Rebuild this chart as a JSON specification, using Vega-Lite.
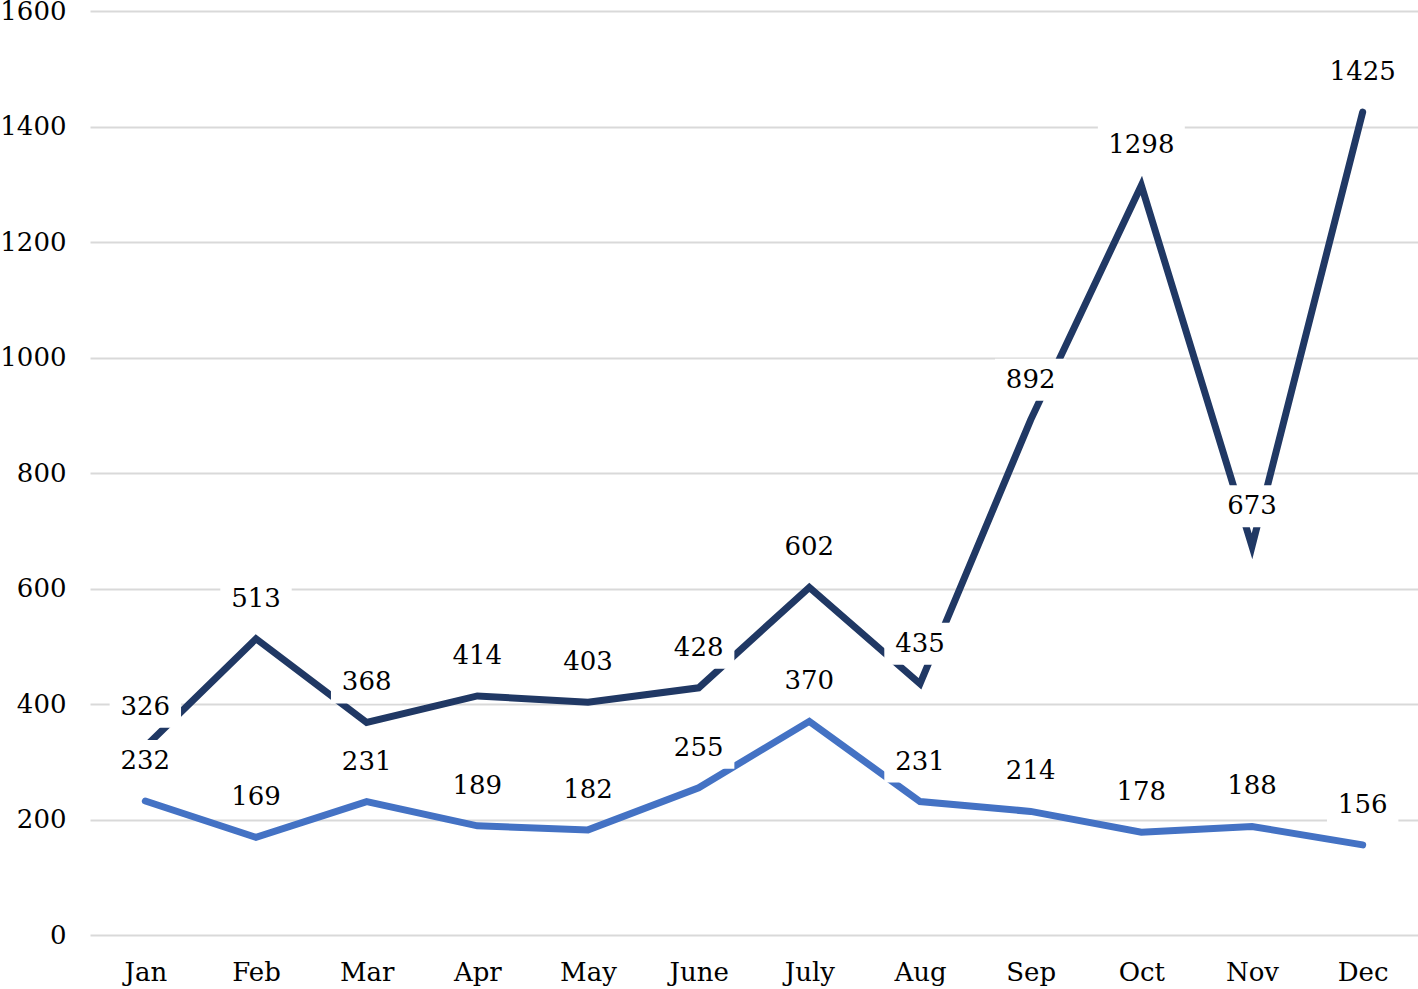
{
  "$schema": "https://vega.github.io/schema/vega-lite/v6.json",
  "autosize": {"type": "none"},
  "width": 1328,
  "height": 924,
  "padding": {"left": 90, "top": 11, "right": 0, "bottom": 54},
  "background": "white",
  "config": {
    "view": {"stroke": null},
    "font": "DejaVu Serif"
  },
  "data": {
    "values": [
      {"month": "Jan", "series": "Series 1", "value": 326},
      {"month": "Feb", "series": "Series 1", "value": 513},
      {"month": "Mar", "series": "Series 1", "value": 368},
      {"month": "Apr", "series": "Series 1", "value": 414},
      {"month": "May", "series": "Series 1", "value": 403},
      {"month": "June", "series": "Series 1", "value": 428},
      {"month": "July", "series": "Series 1", "value": 602},
      {"month": "Aug", "series": "Series 1", "value": 435},
      {"month": "Sep", "series": "Series 1", "value": 892},
      {"month": "Oct", "series": "Series 1", "value": 1298},
      {"month": "Nov", "series": "Series 1", "value": 673},
      {"month": "Dec", "series": "Series 1", "value": 1425},
      {"month": "Jan", "series": "Series 2", "value": 232},
      {"month": "Feb", "series": "Series 2", "value": 169},
      {"month": "Mar", "series": "Series 2", "value": 231},
      {"month": "Apr", "series": "Series 2", "value": 189},
      {"month": "May", "series": "Series 2", "value": 182},
      {"month": "June", "series": "Series 2", "value": 255},
      {"month": "July", "series": "Series 2", "value": 370},
      {"month": "Aug", "series": "Series 2", "value": 231},
      {"month": "Sep", "series": "Series 2", "value": 214},
      {"month": "Oct", "series": "Series 2", "value": 178},
      {"month": "Nov", "series": "Series 2", "value": 188},
      {"month": "Dec", "series": "Series 2", "value": 156}
    ]
  },
  "encoding": {
    "x": {
      "field": "month",
      "type": "ordinal",
      "sort": null,
      "scale": {"type": "point", "padding": 0.5},
      "axis": {
        "title": null,
        "labelAngle": 0,
        "domain": false,
        "ticks": false,
        "labelFont": "DejaVu Serif",
        "labelFontSize": 26,
        "labelColor": "#000000",
        "labelPadding": 24
      }
    },
    "y": {
      "field": "value",
      "type": "quantitative",
      "scale": {"domain": [0, 1600], "nice": false},
      "axis": {
        "title": null,
        "values": [0, 200, 400, 600, 800, 1000, 1200, 1400, 1600],
        "format": "d",
        "domain": false,
        "ticks": false,
        "grid": true,
        "gridColor": "#D9D9D9",
        "gridWidth": 2,
        "labelFont": "DejaVu Serif",
        "labelFontSize": 26,
        "labelColor": "#000000",
        "labelPadding": 24
      }
    },
    "color": {
      "field": "series",
      "type": "nominal",
      "scale": {"domain": ["Series 1", "Series 2"], "range": ["#203864", "#4472C4"]},
      "legend": null
    }
  },
  "layer": [
    {
      "mark": {"type": "line", "strokeWidth": 7, "strokeCap": "round", "strokeJoin": "miter"}
    },
    {
      "transform": [{"filter": "datum.value < 1000"}],
      "mark": {
        "type": "point",
        "shape": "M -1.7 -1 L 1.7 -1 L 1.7 1 L -1.7 1 Z",
        "size": 1764,
        "filled": true,
        "opacity": 1,
        "yOffset": -40,
        "fill": "white",
        "stroke": null
      },
      "encoding": {
        "color": {"value": "white"}
      }
    },
    {
      "transform": [{"filter": "datum.value >= 1000"}],
      "mark": {
        "type": "point",
        "shape": "M -2.07 -1 L 2.07 -1 L 2.07 1 L -2.07 1 Z",
        "size": 1764,
        "filled": true,
        "opacity": 1,
        "yOffset": -40,
        "fill": "white",
        "stroke": null
      },
      "encoding": {
        "color": {"value": "white"}
      }
    },
    {
      "mark": {
        "type": "text",
        "dy": -40,
        "fontSize": 26,
        "font": "DejaVu Serif"
      },
      "encoding": {
        "text": {"field": "value", "type": "quantitative", "format": "d"},
        "color": {"value": "#000000"}
      }
    }
  ]
}
